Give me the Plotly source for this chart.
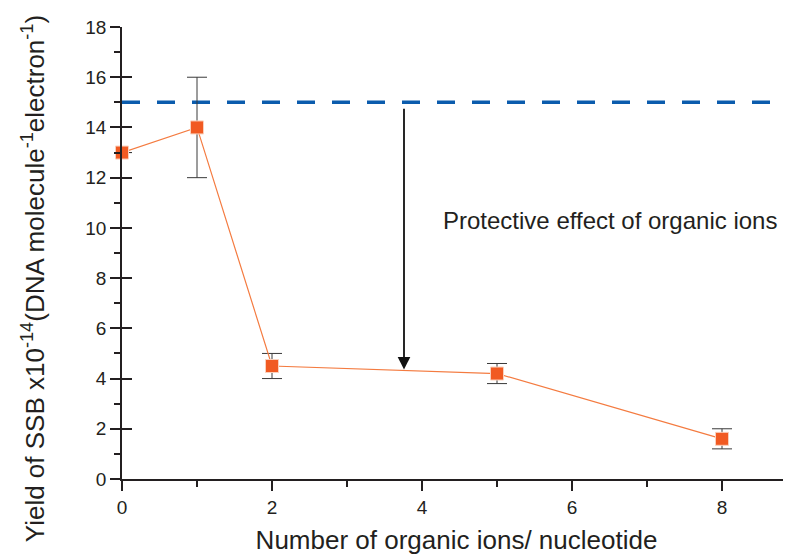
import plotly.graph_objects as go

ions = [0, 1, 2, 5, 8]
yield_ssb = [13, 14, 4.5, 4.2, 1.6]
err = [None, 2, 0.5, 0.4, 0.4]
reference_level = 15
arrow_x = 3.76
arrow_top = 14.8
arrow_bottom = 4.36
label_text = "Protective effect of organic ions"
label_x = 6.51
label_y = 10.3
x_title = "Number of organic ions/ nucleotide"
y_title = "Yield of SSB x10<sup>-14</sup>(DNA molecule<sup>-1</sup>electron<sup>-1</sup>)"

FONT = "Liberation Sans, Arial, Helvetica, sans-serif"
INK = "#231F20"

fig = go.Figure()
fig.add_trace(go.Scatter(
    x=ions, y=yield_ssb, mode="lines+markers", cliponaxis=False,
    line=dict(color="#F47B40", width=1.2),
    marker=dict(symbol="square", size=13, color="#F15A22", line=dict(color="#FAD0BC", width=1)),
    error_y=dict(type="data", array=err, visible=True, color="#3A3A3A", thickness=1, width=10),
    showlegend=False, hoverinfo="x+y",
))
# invisible companion trace so the overlaid y-axis (inner half of the crossing ticks) is drawn
fig.add_trace(go.Scatter(x=ions, y=yield_ssb, yaxis="y2", mode="markers",
                         marker=dict(opacity=0), showlegend=False, hoverinfo="skip"))

fig.add_shape(type="line", xref="x", yref="y", x0=0, x1=9, y0=reference_level, y1=reference_level,
              line=dict(color="#0B5CAD", width=3.5, dash="18px,17px"), layer="below")

fig.add_annotation(x=arrow_x, y=arrow_bottom, ax=arrow_x, ay=arrow_top, xref="x", yref="y",
                   axref="x", ayref="y", showarrow=True, arrowhead=2, arrowsize=1.4, arrowwidth=1.8,
                   arrowcolor="#111111", text="")
fig.add_annotation(x=label_x, y=label_y, xref="x", yref="y", text=label_text, showarrow=False,
                   font=dict(size=24, color=INK, family=FONT))

# y-axis title as rotated text, centred slightly below the plot's middle as in the reference
fig.add_annotation(x=0, y=0.442, xref="paper", yref="paper", xanchor="center", yanchor="middle",
                   xshift=-89, text=y_title, textangle=-90, showarrow=False,
                   font=dict(size=26, color=INK, family=FONT))

axis_common = dict(showgrid=False, zeroline=False, showline=True, linecolor=INK, linewidth=1.8,
                   ticks="outside", tickcolor=INK, tickwidth=1.5, ticklen=10,
                   tickfont=dict(size=19, color=INK, family=FONT),
                   minor=dict(ticks="outside", ticklen=6, tickcolor=INK, tickwidth=1.5, dtick=1))

fig.update_layout(
    width=783, height=550, margin=dict(l=114, r=0, t=19, b=79),
    plot_bgcolor="white", paper_bgcolor="white", font=dict(family=FONT, color=INK),
    xaxis=dict(range=[0, 8.92], dtick=2, tick0=0, **axis_common,
               title=dict(text=x_title, standoff=14,
                          font=dict(size=26, color=INK, family=FONT))),
    yaxis=dict(range=[0, 18], dtick=2, tick0=0, **axis_common),
    yaxis2=dict(range=[0, 18], dtick=2, tick0=0, overlaying="y", side="left", anchor="x",
                showgrid=False, zeroline=False, showline=False, showticklabels=False,
                ticks="inside", ticklen=10, tickwidth=1.5, tickcolor=INK),
)

fig.write_html("out.html")
